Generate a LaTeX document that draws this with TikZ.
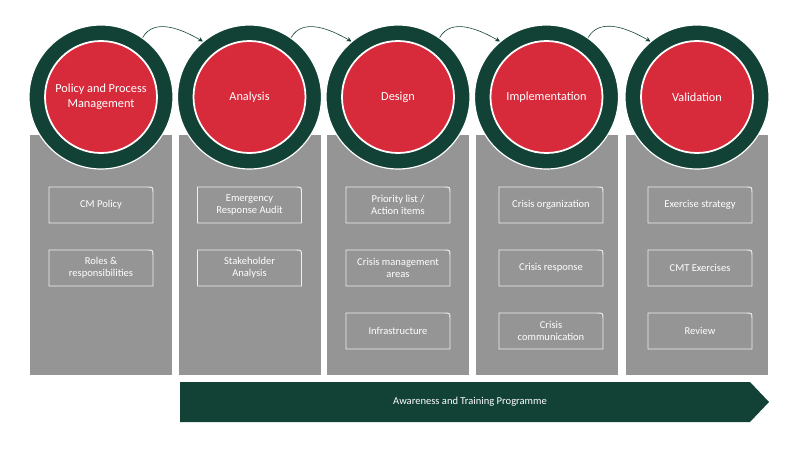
\documentclass[tikz,border=0pt]{standalone}
\usepackage{fontspec}
\setmainfont{Carlito}
\usetikzlibrary{arrows.meta}
\definecolor{dg}{HTML}{124236}
\definecolor{rd}{HTML}{D72B3C}
\definecolor{gr}{HTML}{959595}
\tikzset{
 panel/.style={fill=gr,draw=none},
 outer/.style={circle,fill=dg,draw=white,line width=1pt,minimum size=144*0.03cm,inner sep=0},
 inner/.style={circle,fill=rd,draw=white,line width=1.5pt,minimum size=112*0.03cm,inner sep=0,text=white,align=center,font=\fontsize{10.5}{12.5}\selectfont},
 lbl/.style={text=white,align=center,font=\fontsize{9}{10.5}\selectfont},
 flow/.style={-{Stealth[length=4pt,width=4pt]},draw=dg,line width=0.5pt}
}
\newcommand{\tbox}[4]{% x center, y top, name, text
 \draw[white!85!gr,line width=0.8pt] ({#1-52},{#2+36}) -- ({#1-52},{#2}) -- ({#1+46},{#2}) .. controls ({#1+52},{#2}) .. ({#1+52},{#2+6}) -- ({#1+52},{#2+36}) -- cycle;
 \node[lbl] (#3) at ({#1},{#2+18}) {#4};}
\begin{document}
\begin{tikzpicture}[x=0.03cm,y=-0.03cm]
\useasboundingbox (0,0) rectangle (800,450);
\foreach \c in {101,249.5,398,546.5,697}{
 \fill[gr] (\c-71,135) rectangle (\c+71,375);}
\node[outer] (o1) at (101,97) {};
\node[outer] (o2) at (249.5,97) {};
\node[outer] (o3) at (398,97) {};
\node[outer] (o4) at (546.5,97) {};
\node[outer] (o5) at (697,97) {};
\node[inner] (c1) at (101,97) {Policy and Process\\Management};
\node[inner] (c2) at (249.5,97) {Analysis};
\node[inner] (c3) at (398,97) {Design};
\node[inner] (c4) at (546.5,97) {Implementation};
\node[inner] (c5) at (697,97) {Validation};
\foreach \a/\b in {o1/o2,o2/o3,o3/o4,o4/o5}{
 \draw[flow] (\a.55) to[out=60,in=150] (\b.130);}
\tbox{101}{187}{b11}{CM Policy}
\tbox{101}{250}{b12}{Roles \&\\responsibilities}
\tbox{249.5}{187}{b21}{Emergency\\Response Audit}
\tbox{249.5}{250}{b22}{Stakeholder\\Analysis}
\tbox{398}{187}{b31}{Priority list /\\Action items}
\tbox{398}{250}{b32}{Crisis management\\areas}
\tbox{398}{313}{b33}{Infrastructure}
\tbox{551}{187}{b41}{Crisis organization}
\tbox{551}{250}{b42}{Crisis response}
\tbox{551}{313}{b43}{Crisis\\communication}
\tbox{700}{187}{b51}{Exercise strategy}
\tbox{700}{250}{b52}{CMT Exercises}
\tbox{700}{313}{b53}{Review}
\fill[dg] (180,382) -- (750,382) -- (769,402) -- (750,422) -- (180,422) -- cycle;
\node[lbl] (bar) at (470,402) {Awareness and Training Programme};
\end{tikzpicture}
\end{document}
